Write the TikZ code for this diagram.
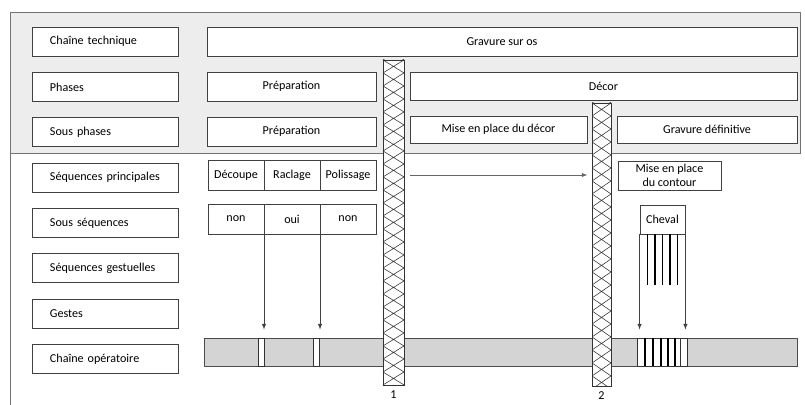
\documentclass[tikz,border=0pt]{standalone}
\usepackage{fontspec}
\setmainfont{Carlito}
\usetikzlibrary{shapes,arrows,positioning,calc}

\begin{document}
\begin{tikzpicture}[x=0.025cm, y=-0.025cm,
    every node/.style={font=\fontsize{8.6}{10}\selectfont},
    rowbox/.style={draw=black!75, line width=0.6pt, fill=white, text width=2.75cm, inner xsep=0.45cm, inner ysep=0pt, minimum height=0.725cm, align=left},
    stagebox/.style={draw=black!75, line width=0.6pt, fill=white, inner sep=0pt, minimum height=0.725cm, align=center},
    cellbox/.style={stagebox, minimum width=1.4cm, minimum height=0.75cm, outer sep=0pt},
    hatchbar/.style={draw=black!80, line width=0.6pt, fill=white, inner sep=0pt, minimum height=#1,
        path picture={\foreach \k in {-1,...,26} {
            \draw[black!80, line width=0.4pt] ($(path picture bounding box.north west)+(0,\k*13)$) -- ($(path picture bounding box.north east)+(0,\k*13+13)$)
                ($(path picture bounding box.north east)+(0,\k*13)$) -- ($(path picture bounding box.north west)+(0,\k*13+13)$);}}}]

\useasboundingbox (0,0) rectangle (805,405);

% shaded band of the upper levels
\draw[draw=black!55, fill=black!7] (10,12) rectangle (800,153);
\draw[black!55] (10,153) -- (10,405);

% level names
\node[rowbox] (chaine) at (105,41.5) {Chaîne technique};
\node[rowbox, below=0.3875cm of chaine] (phases) {Phases};
\node[rowbox, below=0.3875cm of phases] (sousphases) {Sous phases};
\node[rowbox, below=0.3875cm of sousphases] (seqprinc) {Séquences principales};
\node[rowbox, below=0.3875cm of seqprinc] (sousseq) {Sous séquences};
\node[rowbox, below=0.3875cm of sousseq] (seqgest) {Séquences gestuelles};
\node[rowbox, below=0.3875cm of seqgest] (gestes) {Gestes};
\node[rowbox, below=0.3875cm of gestes] (chaineop) {Chaîne opératoire};

% technical chain and phases
\node[stagebox, minimum width=14.75cm] (gravure) at (502,41.5) {Gravure sur os};
\node[stagebox, minimum width=4.225cm] (prepA) at (291.5,86.5) {Préparation};
\node[stagebox, minimum width=9.675cm, minimum height=0.7cm] (decor) at (603.5,86) {Décor};
\node[stagebox, minimum width=4.225cm] (prepB) at (291.5,131.5) {Préparation};
\node[stagebox, minimum width=4.425cm, minimum height=0.675cm] (misedecor) at (498.5,129.5) {Mise en place du décor};
\node[stagebox, minimum width=4.5cm, minimum height=0.675cm] (gravdef) at (707,129.5) {Gravure définitive};

% sequences
\node[cellbox] (decoupe) at (236,175) {Découpe};
\node[cellbox, right=0pt of decoupe] (raclage) {Raclage};
\node[cellbox, right=0pt of raclage] (polissage) {Polissage};
\node[cellbox] (nonA) at (236,219) {non};
\node[cellbox, right=0pt of nonA] (oui) {oui};
\node[cellbox, right=0pt of oui] (nonB) {non};
\node[stagebox, minimum width=2.575cm] (contour) at (669.5,175.5) {Mise en place\\du contour};
\node[stagebox, minimum width=1.125cm] (cheval) at (662.5,219.5) {Cheval};
\foreach \dx in {-15,-7.5,0,7.5,15}
    \draw[line width=1.1pt] ($(cheval.south)+(\dx,0)$) -- ++(0,51);

% operating chain
\node[draw=black!70, line width=0.6pt, fill=black!17, inner sep=0pt, minimum width=14.825cm, minimum height=0.7cm] (bar) at (500.5,352) {};
\foreach \xa/\xb in {258/264, 313/319, 637/687}
    \draw[black!80, line width=0.6pt, fill=white] (\xa,338) rectangle (\xb,366);
\foreach \xx in {645,653,661,668,675}
    \draw[line width=1.1pt] (\xx,338) -- (\xx,366);
\draw[black!80, line width=0.5pt] (680,338) -- (680,366);

% breaks
\node[hatchbar=8.125cm, minimum width=0.525cm] (coupeA) at (393.5,222.5) {};
\node[hatchbar=7.075cm, minimum width=0.475cm] (coupeB) at (601.5,244.5) {};
\node[below=0pt of coupeA] (numA) {1};
\node[below=0pt of coupeB] (numB) {2};

% arrows
\draw[-latex, black!60] (misedecor.west |- raclage) -- (misedecor.east |- raclage);
\draw[-latex, black!75, shorten >=0.2cm] (nonA.south east) -- (nonA.south east |- bar.north);
\draw[-latex, black!75, shorten >=0.2cm] (oui.south east) -- (oui.south east |- bar.north);
\draw[-latex, black!75, shorten >=0.2cm] (cheval.south west) -- (cheval.south west |- bar.north);
\draw[-latex, black!75, shorten >=0.2cm] (cheval.south east) -- (cheval.south east |- bar.north);
\end{tikzpicture}
\end{document}
